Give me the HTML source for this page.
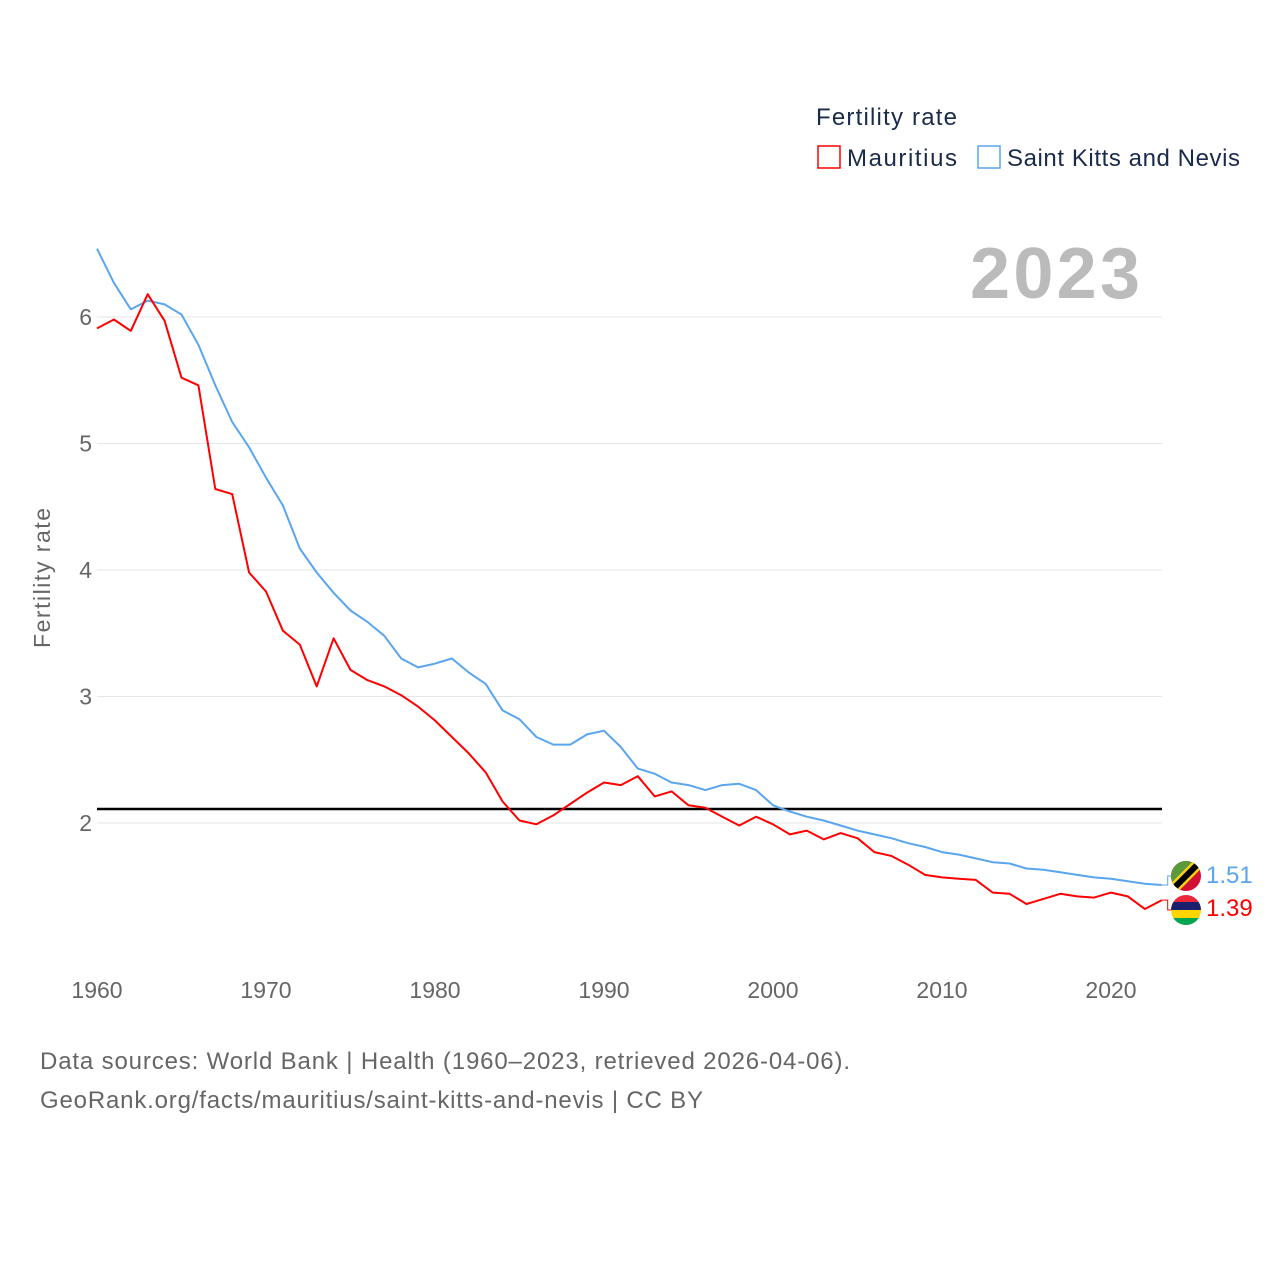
<!DOCTYPE html>
<html><head><meta charset="utf-8"><style>
body{margin:0;background:#fff;}
svg{display:block;font-family:"Liberation Sans",sans-serif;}
</style></head><body>
<svg id="chart" width="1280" height="1280" viewBox="0 0 1280 1280">
<defs>
<clipPath id="c1"><circle cx="1186" cy="876" r="15"/></clipPath>
<clipPath id="c2"><circle cx="1186" cy="910" r="15"/></clipPath>
</defs>
<g id="grid"></g>
<g id="yticks"></g>
<g id="xticks"></g>
<text x="50" y="578" transform="rotate(-90 50 578)" text-anchor="middle" font-size="23" fill="#666" textLength="140">Fertility rate</text>
<text x="970" y="298" font-size="72" font-weight="bold" fill="#bbb" textLength="170">2023</text>
<line x1="97" x2="1162" y1="809" y2="809" stroke="#000" stroke-width="2.5"/>
<g id="series"></g>
<g>
<text x="816" y="125" font-size="24" fill="#1a2a4a" textLength="141">Fertility rate</text>
<rect x="818" y="146" width="22" height="22" fill="none" stroke="#f00" stroke-width="1.5"/>
<text x="847" y="166" font-size="24" fill="#1a2a4a" textLength="110">Mauritius</text>
<rect x="978" y="146" width="22" height="22" fill="none" stroke="#5aa6ee" stroke-width="1.5"/>
<text x="1007" y="166" font-size="24" fill="#1a2a4a" textLength="233">Saint Kitts and Nevis</text>
</g>
<g clip-path="url(#c1)">
<rect x="1170" y="860" width="32" height="32" fill="#d21034"/>
<polygon points="1170,860 1202,860 1170,892" fill="#5a9a3a"/>
<line x1="1168" y1="894" x2="1204" y2="858" stroke="#fcd116" stroke-width="11"/>
<line x1="1168" y1="894" x2="1204" y2="858" stroke="#000" stroke-width="6"/>
</g>
<g clip-path="url(#c2)">
<rect x="1170" y="894" width="32" height="8" fill="#ea2839"/>
<rect x="1170" y="902" width="32" height="8" fill="#1a206d"/>
<rect x="1170" y="910" width="32" height="8" fill="#ffd500"/>
<rect x="1170" y="918" width="32" height="8" fill="#00a551"/>
</g>
<text x="1206" y="883" font-size="24" fill="#5aa6ee">1.51</text>
<text x="1206" y="916" font-size="24" fill="#f00">1.39</text>
<text x="40" y="1069" font-size="24" fill="#666" textLength="810">Data sources: World Bank | Health (1960–2023, retrieved 2026-04-06).</text>
<text x="40" y="1108" font-size="24" fill="#666" textLength="663">GeoRank.org/facts/mauritius/saint-kitts-and-nevis | CC BY</text>
</svg>
<script>
const startYear = 1960;
const yTicks = [2, 3, 4, 5, 6];
const xTicks = [1960, 1970, 1980, 1990, 2000, 2010, 2020];
const kitts = [6.54,6.27,6.06,6.13,6.10,6.02,5.78,5.46,5.17,4.97,4.73,4.51,4.17,3.98,3.82,3.68,3.59,3.48,3.30,3.23,3.26,3.30,3.19,3.10,2.89,2.82,2.68,2.62,2.62,2.70,2.73,2.60,2.43,2.39,2.32,2.30,2.26,2.30,2.31,2.26,2.14,2.09,2.05,2.02,1.98,1.94,1.91,1.88,1.84,1.81,1.77,1.75,1.72,1.69,1.68,1.64,1.63,1.61,1.59,1.57,1.56,1.54,1.52,1.51];
const mauritius = [5.91,5.98,5.89,6.18,5.97,5.52,5.46,4.64,4.60,3.98,3.83,3.52,3.41,3.08,3.46,3.21,3.13,3.08,3.01,2.92,2.81,2.68,2.55,2.40,2.17,2.02,1.99,2.06,2.15,2.24,2.32,2.30,2.37,2.21,2.25,2.14,2.12,2.05,1.98,2.05,1.99,1.91,1.94,1.87,1.92,1.88,1.77,1.74,1.67,1.59,1.57,1.56,1.55,1.45,1.44,1.36,1.40,1.44,1.42,1.41,1.45,1.42,1.32,1.39];
const NS = "http://www.w3.org/2000/svg";
const xS = yr => 97 + (yr - 1960) * 16.9;
const yS = v => 823 - (v - 2) * 126.5;
function mk(tag, attrs, parent){const e=document.createElementNS(NS,tag);for(const k in attrs)e.setAttribute(k,attrs[k]);parent.appendChild(e);return e;}
const grid=document.getElementById('grid'), yt=document.getElementById('yticks'), xt=document.getElementById('xticks'), ser=document.getElementById('series');
yTicks.forEach(v=>{
  const l=mk('line',{x1:97,x2:1162,y1:yS(v),y2:yS(v),stroke:'#e6e6e6','stroke-width':1},grid);
  
  
  const t=mk('text',{x:92,y:yS(v)+8,'text-anchor':'end','font-size':23,fill:'#666'},yt);
  t.textContent=v;
  
  
});
xTicks.forEach(yr=>{
  const t=mk('text',{x:xS(yr),y:998,'text-anchor':'middle','font-size':23,fill:'#666'},xt);
  t.textContent=yr;
  
  
});
function line(data,color,name,labelY){
  let pts=data.map((v,i)=>xS(startYear+i).toFixed(1)+','+yS(v).toFixed(1));
  const p=mk('polyline',{points:pts.join(' '),fill:'none',stroke:color,'stroke-width':2,'stroke-linejoin':'round'},ser);
  
  
  const lx=xS(startYear+data.length-1), ly=yS(data[data.length-1]);
  const c=mk('polyline',{points:`${lx},${ly} ${lx+6},${ly} ${lx+6},${labelY} ${lx+10},${labelY}`,fill:'none',stroke:color,'stroke-width':1},ser);
  
  
}
line(kitts,'#5aa6ee','line-saint-kitts',876);
line(mauritius,'#f00','line-mauritius',910);
</script>
</body></html>
